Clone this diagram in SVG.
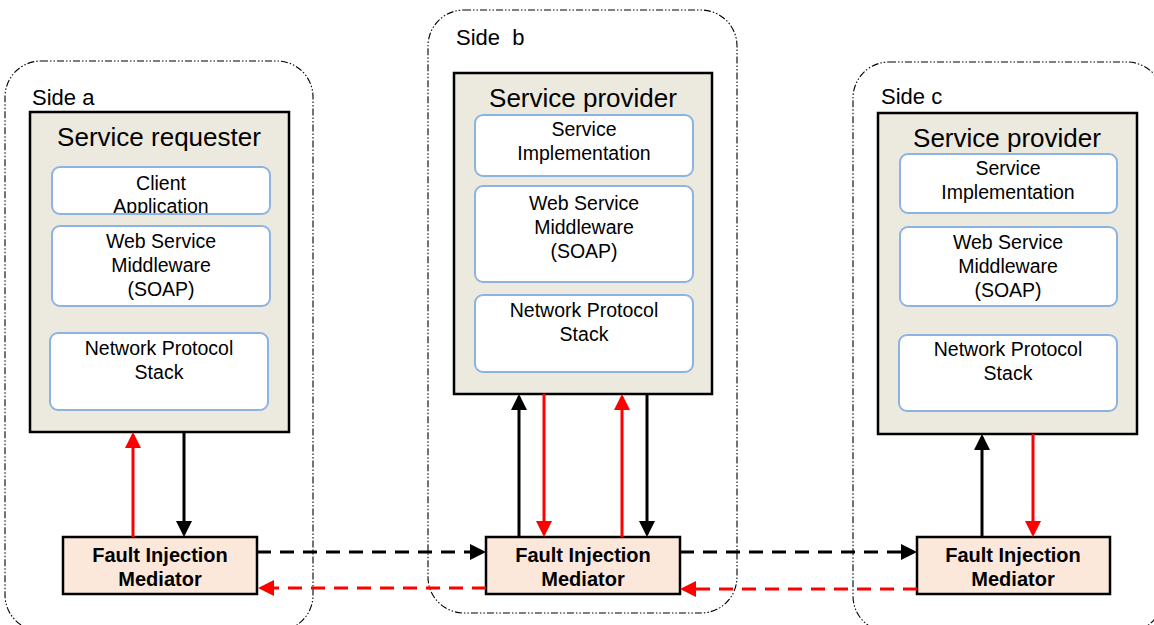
<svg xmlns="http://www.w3.org/2000/svg" width="1154" height="625" viewBox="0 0 1154 625">
  <style>
    .side { fill: none; stroke: #000; stroke-width: 1.1; stroke-dasharray: 7 2 1.5 2 1.5 2; }
    .sidelbl { font-family: "Liberation Sans", Arial, sans-serif; font-size: 22px; fill: #000; white-space: pre; }
    .host { fill: #ECE9DE; stroke: #000; stroke-width: 2.5; }
    .hostlbl { font-family: "Liberation Sans", Arial, sans-serif; font-size: 26px; fill: #000; text-anchor: middle; }
    .layer { fill: #fff; stroke: #8DB3E2; stroke-width: 2; }
    .layerlbl { font-family: "Liberation Sans", Arial, sans-serif; font-size: 19.5px; fill: #000; text-anchor: middle; }
    .fim { fill: #FCE8DA; stroke: #000; stroke-width: 2.5; }
    .fimlbl { font-family: "Liberation Sans", Arial, sans-serif; font-size: 20px; font-weight: bold; fill: #000; text-anchor: middle; }
    .blk { fill: none; stroke: #000; stroke-width: 3; marker-end: url(#headBlack); }
    .red { fill: none; stroke: #FF0000; stroke-width: 3; marker-end: url(#headRed); }
    .dash { stroke-dasharray: 14 9; }
  </style>
  <defs>
    <marker id="headBlack" markerUnits="userSpaceOnUse" markerWidth="16" markerHeight="16" refX="13" refY="8" orient="auto">
      <path d="M0,0 L16,8 L0,16 z" fill="#000"/>
    </marker>
    <marker id="headRed" markerUnits="userSpaceOnUse" markerWidth="16" markerHeight="16" refX="13" refY="8" orient="auto">
      <path d="M0,0 L16,8 L0,16 z" fill="#FF0000"/>
    </marker>
    <clipPath id="clientClip">
      <rect x="52" y="167" width="218" height="46"/>
    </clipPath>
  </defs>

  <!-- side containers -->
  <g id="side-a">
    <rect class="side" x="5" y="61" width="308" height="570" rx="36" ry="36"/>
    <text class="sidelbl" x="32" y="105">Side a</text>
  </g>
  <g id="side-b">
    <rect class="side" x="428" y="10" width="309" height="603" rx="36" ry="36"/>
    <text class="sidelbl" x="456" y="45">Side  b</text>
  </g>
  <g id="side-c">
    <rect class="side" x="853" y="62" width="310" height="570" rx="36" ry="36"/>
    <text class="sidelbl" x="881" y="104">Side c</text>
  </g>

  <!-- side a: service requester -->
  <g id="requester-a">
    <rect class="host" x="30" y="112" width="259" height="320"/>
    <text class="hostlbl" x="159" y="146">Service requester</text>
    <rect class="layer" x="52" y="167" width="218" height="47" rx="8"/>
    <g clip-path="url(#clientClip)">
      <text class="layerlbl" x="161" y="190">Client</text>
      <text class="layerlbl" x="161" y="213">Application</text>
    </g>
    <rect class="layer" x="52" y="226" width="218" height="80" rx="8"/>
    <text class="layerlbl" x="161" y="248">Web Service</text>
    <text class="layerlbl" x="161" y="272">Middleware</text>
    <text class="layerlbl" x="161" y="296">(SOAP)</text>
    <rect class="layer" x="50" y="333" width="218" height="77" rx="8"/>
    <text class="layerlbl" x="159" y="355">Network Protocol</text>
    <text class="layerlbl" x="159" y="379">Stack</text>
  </g>

  <!-- side b: service provider -->
  <g id="provider-b">
    <rect class="host" x="454" y="73" width="258" height="321"/>
    <text class="hostlbl" x="583" y="107">Service provider</text>
    <rect class="layer" x="475" y="115" width="218" height="61" rx="8"/>
    <text class="layerlbl" x="584" y="136">Service</text>
    <text class="layerlbl" x="584" y="160">Implementation</text>
    <rect class="layer" x="475" y="186" width="218" height="96" rx="8"/>
    <text class="layerlbl" x="584" y="210">Web Service</text>
    <text class="layerlbl" x="584" y="234">Middleware</text>
    <text class="layerlbl" x="584" y="258">(SOAP)</text>
    <rect class="layer" x="475" y="295" width="218" height="77" rx="8"/>
    <text class="layerlbl" x="584" y="317">Network Protocol</text>
    <text class="layerlbl" x="584" y="341">Stack</text>
  </g>

  <!-- side c: service provider -->
  <g id="provider-c">
    <rect class="host" x="878" y="113" width="259" height="321"/>
    <text class="hostlbl" x="1007" y="147">Service provider</text>
    <rect class="layer" x="900" y="154" width="217" height="59" rx="8"/>
    <text class="layerlbl" x="1008" y="175">Service</text>
    <text class="layerlbl" x="1008" y="199">Implementation</text>
    <rect class="layer" x="900" y="227" width="217" height="79" rx="8"/>
    <text class="layerlbl" x="1008" y="249">Web Service</text>
    <text class="layerlbl" x="1008" y="273">Middleware</text>
    <text class="layerlbl" x="1008" y="297">(SOAP)</text>
    <rect class="layer" x="899" y="335" width="218" height="76" rx="8"/>
    <text class="layerlbl" x="1008" y="356">Network Protocol</text>
    <text class="layerlbl" x="1008" y="380">Stack</text>
  </g>

  <!-- fault injection mediators -->
  <g id="fim-a">
    <rect class="fim" x="63" y="537" width="194" height="57"/>
    <text class="fimlbl" x="160" y="562">Fault Injection</text>
    <text class="fimlbl" x="160" y="586">Mediator</text>
  </g>
  <g id="fim-b">
    <rect class="fim" x="486" y="537" width="194" height="57"/>
    <text class="fimlbl" x="583" y="562">Fault Injection</text>
    <text class="fimlbl" x="583" y="586">Mediator</text>
  </g>
  <g id="fim-c">
    <rect class="fim" x="917" y="537" width="193" height="57"/>
    <text class="fimlbl" x="1013" y="562">Fault Injection</text>
    <text class="fimlbl" x="1013" y="586">Mediator</text>
  </g>

  <!-- connectors -->
  <g id="connectors">
    <!-- side a -->
    <path class="red" d="M133,537 V435"/>
    <path class="blk" d="M184,432 V534"/>
    <!-- side b -->
    <path class="blk" d="M519,537 V397"/>
    <path class="red" d="M544,394 V534"/>
    <path class="red" d="M622,537 V397"/>
    <path class="blk" d="M647,394 V534"/>
    <!-- side c -->
    <path class="blk" d="M982,537 V437"/>
    <path class="red" d="M1033,434 V534"/>
    <!-- requests and responses between mediators -->
    <path class="blk dash" d="M257,552 H483"/>
    <path class="red dash" d="M486,588 H261"/>
    <path class="blk dash" d="M680,552 H914"/>
    <path class="red dash" d="M917,589 H683"/>
  </g>
</svg>
